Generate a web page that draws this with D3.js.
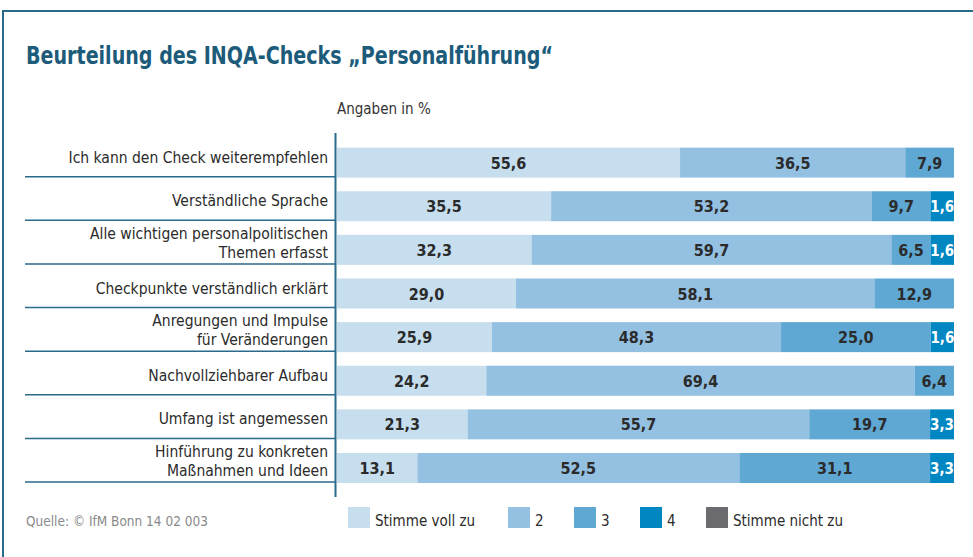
<!DOCTYPE html>
<html>
<head>
<meta charset="utf-8">
<script src="https://cdn.jsdelivr.net/npm/d3@7"></script>
<style>
  body { margin: 0; background: #fff; }
  svg { display: block; }
  text { font-family: "DejaVu Sans Condensed", "Liberation Sans Narrow", "Open Sans", sans-serif; }
</style>
</head>
<body>
<svg></svg>
<script>
let categories = [
    ["Ich kann den Check weiterempfehlen"],
    ["Verständliche Sprache"],
    ["Alle wichtigen personalpolitischen", "Themen erfasst"],
    ["Checkpunkte verständlich erklärt"],
    ["Anregungen und Impulse", "für Veränderungen"],
    ["Nachvollziehbarer Aufbau"],
    ["Umfang ist angemessen"],
    ["Hinführung zu konkreten", "Maßnahmen und Ideen"]
]
let seriesNames = ["Stimme voll zu", "2", "3", "4", "Stimme nicht zu"]
let s1 = [55.6, 35.5, 32.3, 29.0, 25.9, 24.2, 21.3, 13.1]
let s2 = [36.5, 53.2, 59.7, 58.1, 48.3, 69.4, 55.7, 52.5]
let s3 = [7.9, 9.7, 6.5, 12.9, 25.0, 6.4, 19.7, 31.1]
let s4 = [0, 1.6, 1.6, 0, 1.6, 0, 3.3, 3.3]
let s5 = [0, 0, 0, 0, 0, 0, 0, 0]

let colors = ["#c6deee", "#94c0e1", "#5fa8d4", "#0087c1", "#6b6b70"]
let textColors = ["#2b2b2b", "#2b2b2b", "#2b2b2b", "#ffffff", "#ffffff"]
let frameColor = "#2a6a8a"

let width = 973
let height = 557
let minShare = 3.9   // small segments get a minimum width so the label fits

let svg = d3.select('svg').attr("width", width).attr("height", height)

// build rows
let series = [s1, s2, s3, s4, s5]
let rows = categories.map((c, i) => {
    let vals = series.map(s => s[i])
    let shown = vals.map(v => v > 0 ? Math.max(v, minShare) : 0)
    let total = d3.sum(shown)
    let cum = 0
    let segs = vals.map((v, k) => {
        let seg = {k: k, v: v, x0: cum / total * 100, x1: (cum + shown[k]) / total * 100}
        cum += shown[k]
        return seg
    })
    return {label: c, segs: segs}
})

let xScale = d3.scaleLinear().domain([0, 100]).range([337, 954])
let yScale = d3.scaleBand().domain(d3.range(categories.length)).range([133, 482])

// frame
svg.append("line").attr("x1", 3).attr("x2", width).attr("y1", 11).attr("y2", 11)
    .attr("stroke", frameColor).attr("stroke-width", 2)
svg.append("line").attr("x1", 3).attr("x2", 3).attr("y1", 10).attr("y2", height)
    .attr("stroke", frameColor).attr("stroke-width", 2)

// title
svg.append("text").attr("x", 26).attr("y", 64)
    .attr("font-size", 25).attr("font-weight", "bold").attr("fill", "#1d5b7a")
    .attr("textLength", 527).attr("lengthAdjust", "spacingAndGlyphs")
    .text("Beurteilung des INQA-Checks „Personalführung“")

svg.append("text").attr("x", 337).attr("y", 114)
    .attr("font-size", 15).attr("fill", "#333")
    .text("Angaben in %")

// row separators and labels
let band = yScale.bandwidth()
let rowG = svg.selectAll(".row").data(rows).enter().append("g").attr("class", "row")

rowG.append("line")
    .attr("x1", 25).attr("x2", 336)
    .attr("y1", (d, i) => yScale(i) + band).attr("y2", (d, i) => yScale(i) + band)
    .attr("stroke", frameColor).attr("stroke-width", 1.5)

rowG.each(function(d, i) {
    let g = d3.select(this)
    let bottom = yScale(i) + band
    let lines = d.label
    lines.forEach((t, j) => {
        let yy = lines.length == 1 ? bottom - 14 : bottom - 6 - (lines.length - 1 - j) * 19
        g.append("text").attr("x", 328).attr("y", yy)
            .attr("text-anchor", "end").attr("font-size", 15.5).attr("fill", "#2b2b2b")
            .text(t)
    })
})

// bars
let barTop = i => yScale(i) + band - 29
rowG.each(function(d, i) {
    let g = d3.select(this)
    let segs = d.segs.filter(s => s.v > 0)
    g.selectAll("rect").data(segs).enter().append("rect")
        .attr("x", s => xScale(s.x0))
        .attr("width", s => xScale(s.x1) - xScale(s.x0))
        .attr("y", barTop(i))
        .attr("height", 30)
        .attr("fill", s => colors[s.k])
    g.selectAll(".val").data(segs).enter().append("text").attr("class", "val")
        .attr("x", s => (xScale(s.x0) + xScale(s.x1)) / 2)
        .attr("y", barTop(i) + 21)
        .attr("text-anchor", "middle")
        .attr("font-size", s => s.v < 5 ? 15 : 16).attr("font-weight", "bold")
        .attr("fill", s => textColors[s.k])
        .text(s => d3.format(".1f")(s.v).replace(".", ","))
})

// axis line
svg.append("line").attr("x1", 335.5).attr("x2", 335.5).attr("y1", 133).attr("y2", 497)
    .attr("stroke", frameColor).attr("stroke-width", 2)

// legend
let legendX = [348, 508, 574, 640, 706]
let lg = svg.selectAll(".leg").data(seriesNames).enter().append("g").attr("class", "leg")
lg.append("rect").attr("x", (d, i) => legendX[i]).attr("y", 507).attr("width", 22).attr("height", 21)
    .attr("fill", (d, i) => colors[i])
lg.append("text").attr("x", (d, i) => legendX[i] + 27).attr("y", 526)
    .attr("font-size", 15).attr("fill", "#2b2b2b")
    .text(d => d)

svg.append("text").attr("x", 26).attr("y", 526)
    .attr("font-size", 13.5).attr("fill", "#8a8a8a")
    .text("Quelle: © IfM Bonn 14 02 003")
</script>
</body>
</html>
